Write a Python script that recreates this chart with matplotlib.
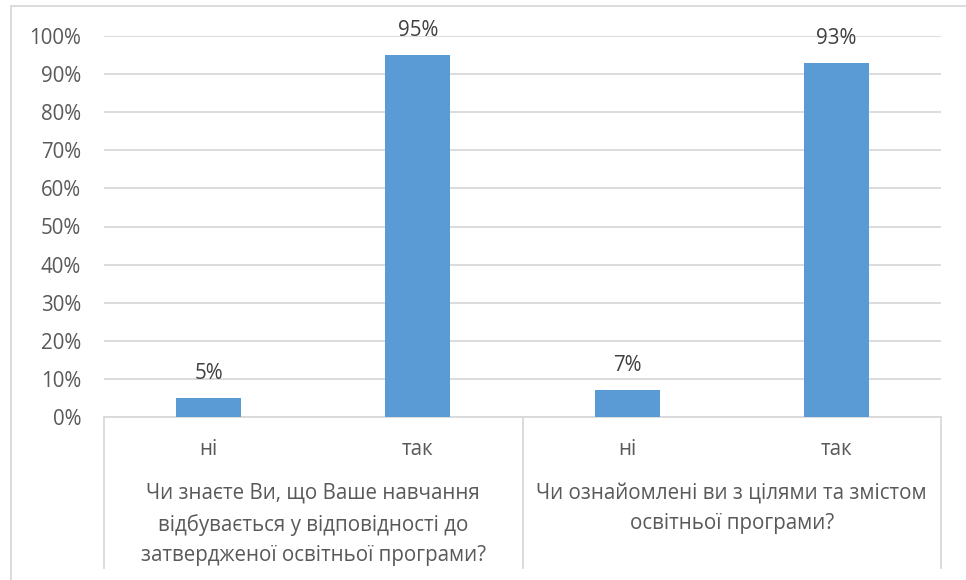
import matplotlib.pyplot as plt
from matplotlib.patches import Rectangle

plt.rcParams['font.family'] = ['Open Sans', 'DejaVu Sans']

answers = ['ні', 'так', 'ні', 'так']
values = [5, 95, 7, 93]
questions = ['Чи знаєте Ви, що Ваше навчання\nвідбувається у відповідності до\nзатвердженої освітньої програми?',
             'Чи ознайомлені ви з цілями та змістом\nосвітньої програми?']
yticks = [0, 10, 20, 30, 40, 50, 60, 70, 80, 90, 100]

txt = '#595959'
grid = '#d9d9d9'
blue = '#5b9bd5'
fs = 14.8

fig = plt.figure(figsize=(9.66, 5.8), dpi=100)
ax = fig.add_axes([104/966, 1-417/580, (941-104)/966, (417-36)/580])

# chart border (right/bottom cut off in the original)
fig.patches.append(Rectangle((11/966, -0.1), 1.2, 1 - 6/580 + 0.1, transform=fig.transFigure,
                             fill=False, edgecolor=grid, linewidth=1.3))

x = list(range(len(values)))
ax.bar(x, values, width=0.31, color=blue, zorder=3)
for xi, v in zip(x, values):
    ax.annotate(f'{v}%', (xi, v), xytext=(0, 19), textcoords='offset pixels',
                ha='center', va='baseline', fontsize=fs, color='#404040')

ax.set_xlim(-0.5, 3.5)
ax.set_ylim(0, 100)
ax.set_yticks(yticks)
ax.set_yticklabels([f'{t}%' for t in yticks], fontsize=fs, color=txt)
ax.tick_params(axis='y', length=0, pad=16.5)
ax.set_xticks([])
ax.grid(axis='y', color=grid, linewidth=1.3, zorder=0)
for s in ['top', 'right', 'left']:
    ax.spines[s].set_visible(False)
ax.spines['bottom'].set_color(grid)
ax.spines['bottom'].set_linewidth(1.3)

tr = ax.get_xaxis_transform()
for b in [-0.5, 1.5, 3.5]:
    ax.plot([b, b], [0, -0.396], transform=tr, color=grid, linewidth=1.3, clip_on=False)

for xi, a in zip(x, answers):
    ax.text(xi, -0.084, a, transform=tr, ha='center', va='center', fontsize=fs, color=txt)

for i, q in enumerate(questions):
    ax.text(2 * i + 0.5, -0.172, q, transform=tr, ha='center', va='top', fontsize=fs,
            color=txt, linespacing=1.6)

fig.savefig('out.png', dpi=100)
